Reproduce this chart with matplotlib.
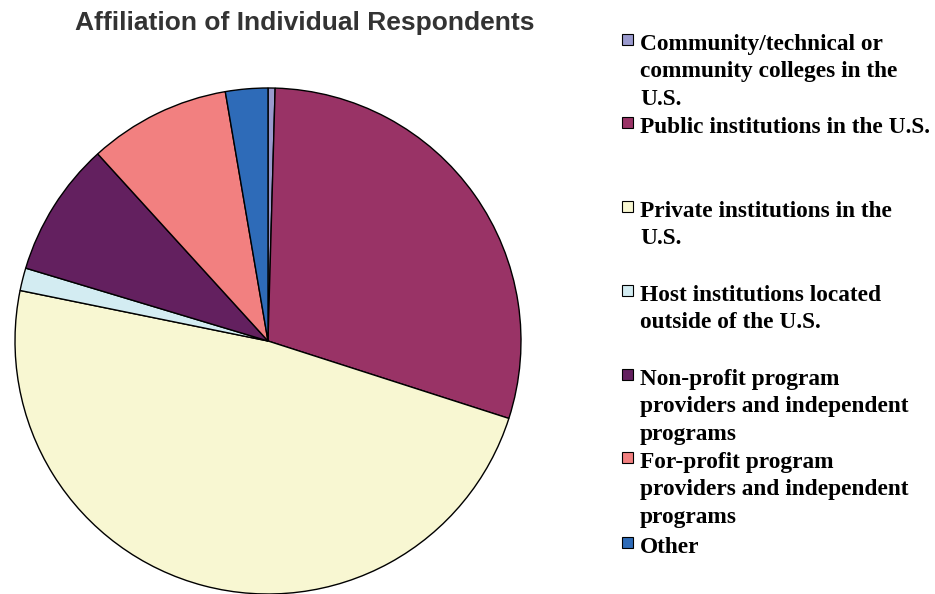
import matplotlib.pyplot as plt
from matplotlib.patches import Rectangle

# slice shares (%), clockwise from 12 o'clock
labels = ['Community/technical or\ncommunity colleges in the\nU.S.',
          'Public institutions in the U.S.',
          'Private institutions in the\nU.S.',
          'Host institutions located\noutside of the U.S.',
          'Non-profit program\nproviders and independent\nprograms',
          'For-profit program\nproviders and independent\nprograms',
          'Other']
values = [0.45, 29.5, 48.25, 1.45, 8.6, 9.05, 2.7]
colors = ['#9A9ACE', '#993366', '#F8F7D2', '#D3ECF2', '#63205F', '#F28080', '#2E6BB8']

fig = plt.figure(figsize=(9.35, 5.94), dpi=100)
ax = fig.add_axes([15/935, 0.0, 506/935, 506/594])
ax.pie(values, colors=colors, startangle=90, counterclock=False,
       wedgeprops=dict(edgecolor='black', linewidth=1))
ax.set_xlim(-1, 1)
ax.set_ylim(-1, 1)
ax.set_aspect('equal')

fig.text(305/935, 1 - 23/594, 'Affiliation of Individual Respondents',
         ha='center', va='center', fontsize=19, fontweight='bold',
         family='Liberation Sans', color='#333333')

# legend drawn by hand: baseline of first text line for each entry
base = [50, 133, 217, 301, 385, 468, 553]
step = 27.5
for lab, c, y in zip(labels, colors, base):
    fig.patches.append(Rectangle((622/935, 1 - (y - 5)/594), 11/935, 11/594,
                                 transform=fig.transFigure, facecolor=c,
                                 edgecolor='black', linewidth=0.8))
    # va='baseline' lines up the last line, so shift down
    ylast = y + step * lab.count('\n')
    fig.text(640/935, 1 - ylast/594, lab, ha='left', va='baseline',
             fontsize=16.8, fontweight='bold', family='Liberation Serif',
             linespacing=1.42)

fig.savefig('out.png', dpi=100)
